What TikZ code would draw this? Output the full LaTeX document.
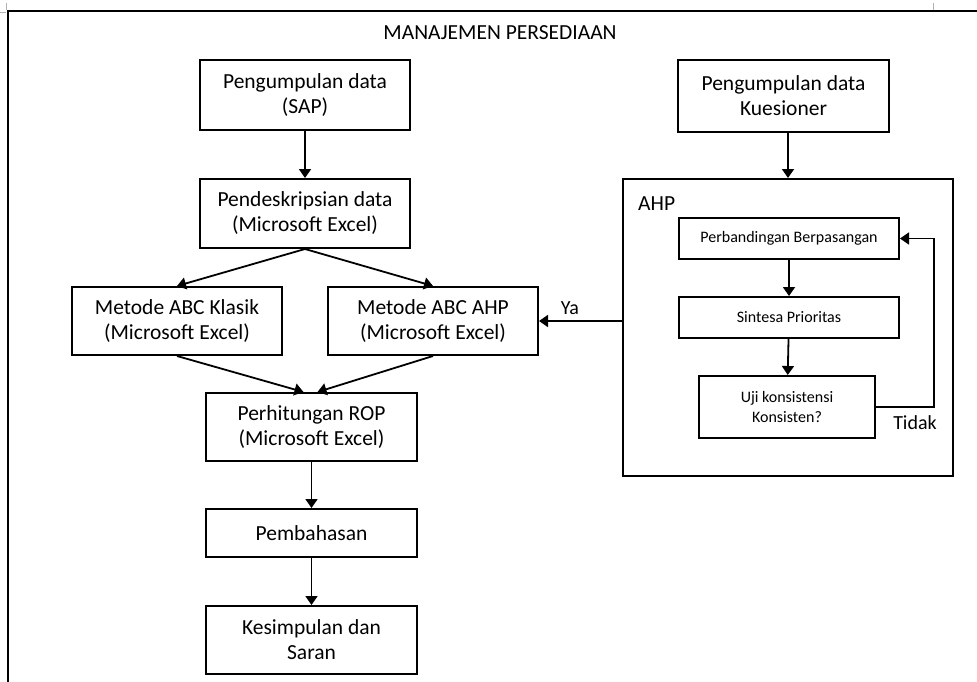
\documentclass[tikz,border=0pt]{standalone}
\usepackage{fontspec}
\setmainfont{Carlito}
\usepackage{tikz}
\usetikzlibrary{arrows.meta,positioning,calc}

\begin{document}
\begin{tikzpicture}[
  x=1pt, y=-1pt,
  box/.style={draw, line width=2pt, align=center, inner sep=0pt,
              font=\fontsize{21.5}{25}\selectfont},
  sub/.style={draw, line width=2pt, align=center, inner sep=0pt,
              font=\fontsize{16}{20}\selectfont},
  lbl/.style={font=\fontsize{20}{24}\selectfont, inner sep=0pt},
  ar/.style={-{Triangle[length=9pt, width=12pt]}, line width=1.8pt}
]
  \useasboundingbox (0,0) rectangle (977,682);
  % page frame and margin marks
  \draw[line width=1.5pt] (8,682) -- (8,11) -- (977,11);
  \draw[gray!60, line width=0.6pt] (0,12) -- (6,12) (6,3) -- (6,10) (933,3) -- (933,10);
  \node[lbl, font=\fontsize{21.5}{25}\selectfont] (judul) at (500,33) {MANAJEMEN PERSEDIAAN};

  % left column
  \node[box, minimum width=210, minimum height=70] (sap) at (305,95) {Pengumpulan data\\(SAP)};
  \node[box, minimum width=210, minimum height=69] (desk) at (305,213.5) {Pendeskripsian data\\(Microsoft Excel)};
  \node[box, minimum width=210, minimum height=68] (klasik) at (177,321) {Metode ABC Klasik\\(Microsoft Excel)};
  \node[box, minimum width=210, minimum height=68] (abcahp) at (433,321) {Metode ABC AHP\\(Microsoft Excel)};
  \node[box, minimum width=211, minimum height=68] (rop) at (311.5,427) {Perhitungan ROP\\(Microsoft Excel)};
  \node[box, minimum width=211, minimum height=48] (bahas) at (311.5,533) {Pembahasan};
  \node[box, minimum width=211, minimum height=68] (simpul) at (311.5,640) {Kesimpulan dan\\Saran};

  % right column
  \node[box, minimum width=211, minimum height=72] (kues) at (783.5,96) {Pengumpulan data\\Kuesioner};
  \node[draw, line width=2pt, minimum width=330, minimum height=297] (ahp) at (788,327.5) {};
  \node[lbl, anchor=west, font=\fontsize{21.5}{25}\selectfont] (ahplbl) at (638,204) {AHP};
  \node[sub, minimum width=220, minimum height=41] (banding) at (789,238.5) {Perbandingan Berpasangan};
  \node[sub, minimum width=220, minimum height=41] (sintesa) at (789,317.5) {Sintesa Prioritas};
  \node[sub, minimum width=176, minimum height=62] (uji) at (787,407) {Uji konsistensi\\Konsisten?};

  % connectors
  \draw[ar] (sap) -- (desk);
  \draw[ar] (desk.south) -- (klasik.north);
  \draw[ar] (desk.south) -- (abcahp.north);
  \draw[ar] (klasik.south) -- ($(rop.north)+(-8,0)$);
  \draw[ar] (abcahp.south) -- ($(rop.north)+(6,0)$);
  \draw[ar] (rop) -- (bahas);
  \draw[ar] (bahas) -- (simpul);
  \draw[ar] (kues.south -| ahp.north) -- (ahp.north);
  \draw[ar] (banding) -- (sintesa);
  \draw[ar] (sintesa) -- (uji);
  \draw[ar] (uji.east) -- ++(58,0) |- (banding.east);
  \draw[ar] (abcahp.east -| ahp.west) -- (abcahp.east);
  \node[lbl] (ya) at (570,308) {Ya};
  \node[lbl] (tidak) at (915,423) {Tidak};
\end{tikzpicture}
\end{document}
